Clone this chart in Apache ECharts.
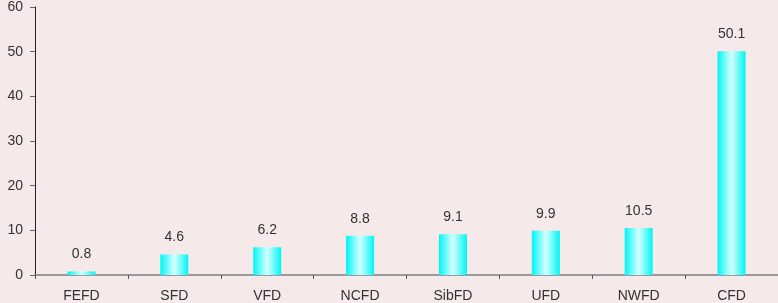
<!DOCTYPE html>
<html>
<head>
<meta charset="utf-8">
<script src="https://cdn.jsdelivr.net/npm/echarts@6/dist/echarts.min.js"></script>
<style>
  html, body { margin: 0; padding: 0; background: #f5e9e9; }
  #chart { width: 778px; height: 303px; }
</style>
</head>
<body>
<div id="chart"></div>
<script>
var categories = ['FEFD', 'SFD', 'VFD', 'NCFD', 'SibFD', 'UFD', 'NWFD', 'CFD']
var values = [0.8, 4.6, 6.2, 8.8, 9.1, 9.9, 10.5, 50.1]

var chart = echarts.init(document.getElementById('chart'))
var font = ['Liberation Sans', 'Noto Sans', 'sans-serif']

var option = {
  backgroundColor: '#f5e9e9',
  animation: false,
  grid: {
    left: 35,
    right: 0,
    top: 5,
    bottom: 28,
    containLabel: false,
  },
  xAxis: {
    type: 'category',
    data: categories,
    axisLine: { lineStyle: { color: '#7f7f7f', width: 1.5 } },
    axisTick: { show: true, length: 4, lineStyle: { color: '#555' } },
    axisLabel: { color: '#333', fontSize: 14, fontFamily: font, margin: 14 },
  },
  yAxis: {
    type: 'value',
    min: 0,
    max: 60,
    interval: 10,
    splitLine: { show: false },
    axisLine: { show: true, lineStyle: { color: '#222' } },
    axisTick: { show: true, length: 5, lineStyle: { color: '#666' } },
    axisLabel: { color: '#333', fontSize: 14, fontFamily: font, margin: 12 },
  },
  series: [
    {
      type: 'bar',
      data: values,
      barWidth: 28,
      itemStyle: {
        color: new echarts.graphic.LinearGradient(0, 0, 1, 0, [
          { offset: 0, color: '#00f5f5' },
          { offset: 0.5, color: '#d4ffff' },
          { offset: 1, color: '#00f5f5' },
        ]),
      },
      label: {
        show: true,
        position: 'top',
        distance: 10,
        color: '#333',
        fontSize: 14,
        fontFamily: font,
      },
    },
  ],
}
chart.setOption(option)
</script>
</body>
</html>
